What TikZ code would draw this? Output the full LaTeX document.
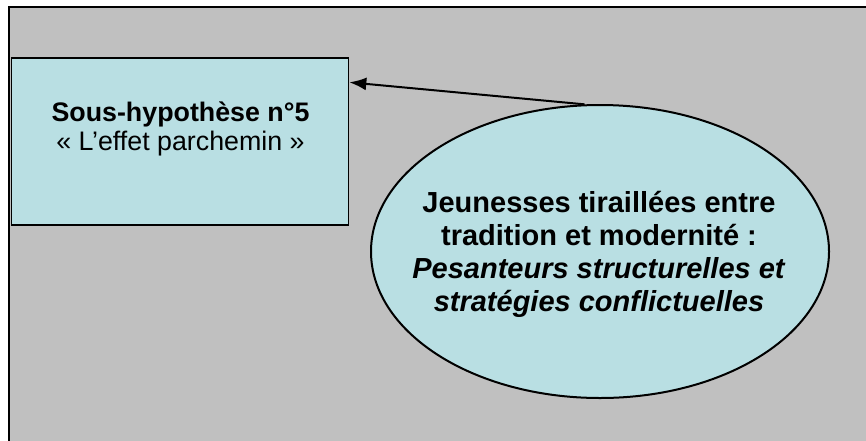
\documentclass[tikz,border=0pt]{standalone}
\usepackage{fontspec}
\setmainfont{Liberation Sans}
\usetikzlibrary{shapes.geometric,arrows.meta,calc}
\definecolor{bggray}{HTML}{C0C0C0}
\definecolor{paleblue}{HTML}{B9DFE3}
\tikzset{
  hypbox/.style={draw=black, line width=1.8pt, fill=paleblue, minimum width=337pt, minimum height=167pt, inner sep=0pt},
  bubble/.style={ellipse, draw=black, line width=2pt, fill=paleblue, minimum width=458pt, minimum height=293pt, inner sep=0pt},
  boxtext/.style={align=center, inner sep=0pt, font=\fontsize{26.8pt}{29pt}\selectfont},
  bubbletext/.style={align=center, inner sep=0pt, font=\fontsize{29pt}{33pt}\selectfont\bfseries},
  link/.style={line width=2pt, -{Latex[length=17pt,width=13pt]}}
}
\begin{document}
\begin{tikzpicture}[x=1pt,y=-1pt]
\useasboundingbox (0,0) rectangle (866,440);
\fill[white] (0,0) rectangle (866,440);
\begin{scope}
\clip (0,0) rectangle (866,440);
\draw[line width=2.6pt, fill=bggray] (9,7) rectangle (890,470);
\end{scope}
\node[hypbox, anchor=north west] (box) at (10.5,57) {};
\node[boxtext, anchor=north] (boxlabel) at (180.5,101.5) {\textbf{Sous-hypothèse n°5}\\« L’effet parchemin »};
\node[bubble] (ell) at (600,251.5) {};
\node[bubbletext] (elllabel) at (599,254) {Jeunesses tiraillées entre\\tradition et modernité :\\\textit{Pesanteurs structurelles et}\\\textit{stratégies conflictuelles}};
\coordinate (tip) at ($(box.north east)!0.15!(box.south east)$);
\draw[link] (ell.96) -- (tip);
\end{tikzpicture}
\end{document}
